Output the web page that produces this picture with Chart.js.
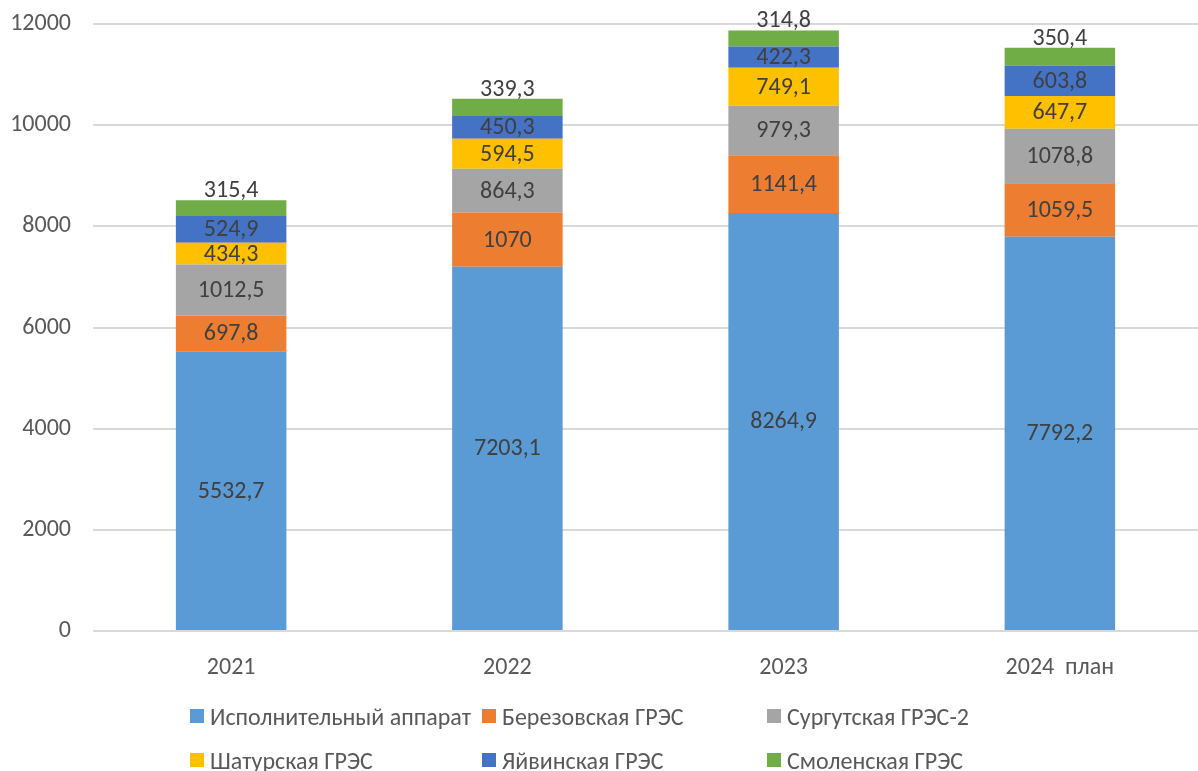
<!DOCTYPE html>
<html>
<head>
<meta charset="utf-8">
<script src="https://cdn.jsdelivr.net/npm/chart.js@4/dist/chart.umd.min.js"></script>
<style>
  body { margin: 0; background: #fff; }
  #wrap { position: relative; width: 1198px; height: 771px; }
  #legend { position: absolute; left: 0; top: 0; width: 1198px; height: 771px; pointer-events: none;
            font-family: Carlito, "Liberation Sans Narrow", "Noto Sans", sans-serif; font-size: 24px; color: #595959; }
  .item { position: absolute; display: flex; align-items: center; white-space: nowrap; }
  .box { width: 14px; height: 14px; margin-right: 6px; }
</style>
</head>
<body>
<div id="wrap">
  <canvas id="chart" width="1198" height="771"></canvas>
  <div id="legend"></div>
</div>
<script>
const years = ['2021', '2022', '2023', '2024  план'];
const seriesNames = ['Исполнительный аппарат', 'Березовская ГРЭС', 'Сургутская ГРЭС-2', 'Шатурская ГРЭС', 'Яйвинская ГРЭС', 'Смоленская ГРЭС'];
const apparat   = [5532.7, 7203.1, 8264.9, 7792.2];
const berezov   = [697.8, 1070, 1141.4, 1059.5];
const surgut    = [1012.5, 864.3, 979.3, 1078.8];
const shatura   = [434.3, 594.5, 749.1, 647.7];
const yaiva     = [524.9, 450.3, 422.3, 603.8];
const smolensk  = [315.4, 339.3, 314.8, 350.4];
const colors = ['#5B9BD5', '#ED7D31', '#A5A5A5', '#FFC000', '#4472C4', '#70AD47'];

const FONT = 'Carlito, "Liberation Sans Narrow", "Noto Sans", sans-serif';
const fmt = v => String(v).replace('.', ',');

// labels inside each segment, the top one above the bar
const barLabels = {
    id: 'barLabels',
    afterDatasetsDraw(chart) {
        const ctx = chart.ctx;
        ctx.save();
        ctx.font = '24px ' + FONT;
        ctx.fillStyle = '#404040';
        ctx.textAlign = 'center';
        const last = chart.data.datasets.length - 1;
        chart.data.datasets.forEach((ds, i) => {
            chart.getDatasetMeta(i).data.forEach((bar, j) => {
                const txt = fmt(ds.data[j]);
                if (i === last) {
                    ctx.textBaseline = 'bottom';
                    ctx.fillText(txt, bar.x, bar.y + 3);
                } else {
                    ctx.textBaseline = 'middle';
                    ctx.fillText(txt, bar.x, (bar.y + bar.base) / 2 + 1);
                }
            });
        });
        ctx.restore();
    }
};

const data = [apparat, berezov, surgut, shatura, yaiva, smolensk];

new Chart(document.getElementById('chart'), {
    type: 'bar',
    data: {
        labels: years,
        datasets: data.map((d, i) => ({
            label: seriesNames[i],
            data: d,
            backgroundColor: colors[i],
            borderWidth: 0,
            barPercentage: 0.8,
            categoryPercentage: 0.5
        }))
    },
    options: {
        responsive: false,
        animation: false,
        layout: { padding: { top: 24, right: 0, left: 0, bottom: 0 } },
        plugins: { legend: { display: false }, tooltip: { enabled: false } },
        scales: {
            x: {
                stacked: true,
                grid: { display: false },
                border: { display: false },
                ticks: { color: '#595959', font: { family: FONT, size: 24 }, padding: 15 },
                afterFit: axis => { axis.height = 140; }
            },
            y: {
                stacked: true,
                min: 0, max: 12000,
                ticks: { stepSize: 2000, color: '#595959', font: { family: FONT, size: 24 }, padding: 22,
                         callback: v => String(v) },
                grid: { color: '#D9D9D9', lineWidth: 2, drawTicks: false },
                border: { display: false },
                afterFit: axis => { axis.width = 93; axis.paddingTop = 0; axis.paddingBottom = 0; }
            }
        }
    },
    plugins: [barLabels]
});

// legend in two rows of three
const cols = [190, 482, 767];
const rows = [716, 760];
const legend = document.getElementById('legend');
seriesNames.forEach((name, i) => {
    const el = document.createElement('div');
    el.className = 'item';
    el.style.left = cols[i % 3] + 'px';
    el.style.top = (rows[Math.floor(i / 3)] - 14) + 'px';
    el.style.height = '28px';
    el.innerHTML = '<span class="box" style="background:' + colors[i] + '"></span>' + name;
    legend.appendChild(el);
});
</script>
</body>
</html>
